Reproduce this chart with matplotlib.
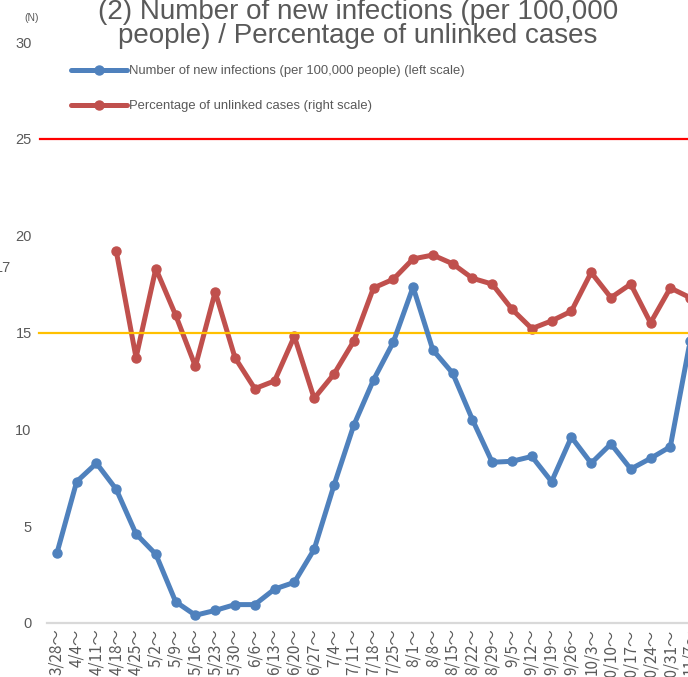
import matplotlib
matplotlib.use("Agg")
import matplotlib.pyplot as plt

plt.rcParams['font.family'] = ['Liberation Sans', 'Noto Sans CJK JP', 'DejaVu Sans']

weeks = ["3/28～", "4/4～", "4/11～", "4/18～", "4/25～", "5/2～", "5/9～", "5/16～",
         "5/23～", "5/30～", "6/6～", "6/13～", "6/20～", "6/27～", "7/4～", "7/11～",
         "7/18～", "7/25～", "8/1～", "8/8～", "8/15～", "8/22～", "8/29～", "9/5～",
         "9/12～", "9/19～", "9/26～", "10/3～", "10/10～", "10/17～", "10/24～",
         "10/31～", "11/7～"]

new_infections = [3.6, 7.3, 8.25, 6.9, 4.6, 3.55, 1.1, 0.4, 0.65, 0.95, 0.95, 1.75,
                  2.1, 3.8, 7.1, 10.2, 12.55, 14.5, 17.35, 14.1, 12.9, 10.5, 8.3,
                  8.35, 8.6, 7.3, 9.6, 8.25, 9.25, 7.95, 8.5, 9.1, 14.55]

unlinked_pct = [None, None, None, 38.4, 27.4, 36.6, 31.8, 26.5, 34.2, 27.4, 24.2,
                25.0, 29.6, 23.2, 25.7, 29.1, 34.6, 35.5, 37.6, 38.0, 37.1, 35.6,
                35.0, 32.4, 30.4, 31.2, 32.2, 36.2, 33.6, 35.0, 31.0, 34.6, 33.6]

stage_iv = 25
stage_iii = 15

BLUE = "#4F81BD"
RED = "#C0504D"
GRAY = "#595959"

W, H = 688, 677
fig = plt.figure(figsize=(W / 100, H / 100), dpi=100)
left_px, right_px = 47, 700
bot_px, top_px = 623, 42
ax = fig.add_axes([left_px / W, 1 - bot_px / H, (right_px - left_px) / W, (bot_px - top_px) / H])
ax.set_zorder(2)
ax.patch.set_visible(False)
ax2 = ax.twinx()
ax2.set_zorder(1)

x = list(range(len(weeks)))

ax.axhline(stage_iv, color="#FF0000", lw=1.6, xmin=-0.01, clip_on=False, zorder=1)
ax.axhline(stage_iii, color="#FFC000", lw=1.6, xmin=-0.012, clip_on=False, zorder=1)

xr = [i for i, v in zip(x, unlinked_pct) if v is not None]
yr = [v for v in unlinked_pct if v is not None]
l2, = ax2.plot(xr, yr, color=RED, lw=3.6, marker="o", ms=6.5, solid_capstyle="round",
               solid_joinstyle="round", label="Percentage of unlinked cases (right scale)")
l1, = ax.plot(x, new_infections, color=BLUE, lw=3.6, marker="o", ms=6.5, solid_capstyle="round",
              solid_joinstyle="round", label="Number of new infections (per 100,000 people) (left scale)")

ax.set_xlim(-0.5, len(weeks) - 0.5)
ax.set_ylim(0, 30)
ax2.set_ylim(0, 60)
ax.set_yticks([0, 5, 10, 15, 20, 25, 30])
ax.set_xticks(x)
ax.set_xticklabels(weeks, rotation=90, fontsize=11, color=GRAY,
                   family=['Noto Sans CJK JP', 'DejaVu Sans'])
ax.tick_params(axis='y', length=0, pad=11, labelsize=10.5, labelcolor=GRAY)
ax.tick_params(axis='x', length=0, pad=4)
ax2.tick_params(length=0, labelright=False)
for s in ["top", "right", "left"]:
    ax.spines[s].set_visible(False)
    ax2.spines[s].set_visible(False)
ax2.spines["bottom"].set_visible(False)
ax.spines["bottom"].set_color("#D9D9D9")
ax.spines["bottom"].set_linewidth(1.6)

fig.text(358 / W, 1 - 24 / H, "(2) Number of new infections (per 100,000\npeople) / Percentage of unlinked cases",
         ha="center", va="center", fontsize=20, color=GRAY, linespacing=0.88)
fig.text(32 / W, 1 - 18 / H, "(N)", ha="center", va="center", fontsize=7.5, color=GRAY)
fig.text(11 / W, 1 - 268 / H, "17", ha="right", va="center", fontsize=10.5, color=GRAY)

leg = ax.legend(handles=[l1, l2], loc="upper left", bbox_to_anchor=(71 / W, 1 - 65 / H),
                bbox_transform=fig.transFigure, frameon=False, fontsize=9.4,
                handlelength=4.3, handletextpad=0.12, labelspacing=1.75,
                borderpad=0, borderaxespad=0)
for t in leg.get_texts():
    t.set_color(GRAY)

fig.savefig("out.png", dpi=100)
